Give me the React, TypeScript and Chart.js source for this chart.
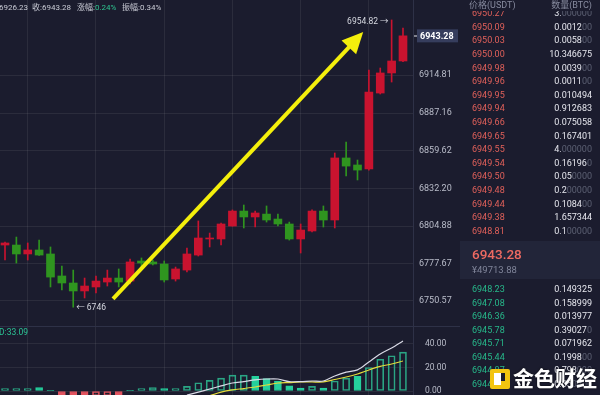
import React, { useEffect, useRef } from "react";
import { Chart, registerables } from "chart.js";

Chart.register(...registerables);

// ---------------- data ----------------
const candleOpen = [6791.2, 6791.2, 6784.7, 6787.6, 6784.7, 6768.7, 6763.6, 6757.8, 6760.7, 6764.3, 6767.2, 6765.0, 6779.6, 6778.9, 6777.4, 6766.5, 6773.0, 6783.9, 6795.6, 6795.6, 6805.0, 6815.9, 6811.6, 6813.7, 6810.1, 6806.5, 6795.6, 6801.4, 6815.9, 6809.4, 6854.5, 6849.4, 6846.5, 6901.7, 6916.3, 6925.0];
const candleHigh = [6793.4, 6797.0, 6792.7, 6794.8, 6789.8, 6775.9, 6773.0, 6767.2, 6768.7, 6773.0, 6773.8, 6781.0, 6781.8, 6780.3, 6779.6, 6775.2, 6789.0, 6808.7, 6799.9, 6807.2, 6816.7, 6820.3, 6815.9, 6819.6, 6813.7, 6807.9, 6806.5, 6816.7, 6819.6, 6858.1, 6866.1, 6853.0, 6918.4, 6919.9, 6954.82, 6949.0];
const candleLow = [6780.3, 6778.1, 6780.3, 6783.6, 6760.7, 6758.5, 6746.0, 6752.7, 6756.3, 6761.4, 6760.7, 6762.9, 6775.2, 6776.7, 6764.3, 6765.0, 6771.6, 6783.2, 6789.8, 6791.2, 6805.0, 6803.6, 6804.3, 6807.9, 6805.0, 6794.8, 6785.4, 6800.7, 6804.3, 6803.6, 6841.4, 6838.5, 6845.7, 6901.0, 6909.7, 6924.5];
const candleClose = [6792.7, 6784.7, 6787.6, 6783.9, 6767.9, 6763.6, 6757.8, 6761.4, 6765.0, 6767.2, 6764.3, 6778.9, 6778.1, 6777.4, 6765.8, 6773.8, 6784.7, 6796.3, 6796.3, 6806.5, 6815.9, 6811.6, 6814.5, 6809.4, 6806.5, 6795.6, 6802.1, 6815.9, 6809.4, 6854.5, 6848.6, 6845.7, 6902.4, 6916.3, 6925.0, 6943.28];

const priceTicks = [6750.57, 6777.67, 6804.88, 6832.2, 6859.62, 6887.16, 6914.81];
const timeGridAt = [2, 8, 14, 20, 26, 32];
const lastPrice = 6943.28;
const highMark = { index: 34, price: 6954.82, text: "6954.82 →" };
const lowMark = { index: 6, price: 6746, text: "← 6746" };
const arrowStart = { index: 9.5, price: 6752.0 };
const arrowEnd = { index: 31.5, price: 6946.1 };

const histValues = [2, 2, 2, 3, 0.5, -4, -4, -4, -4, -4, -4, 0.5, 2, 3, 2, 2, 4, 7, 9, 11, 13.5, 13.5, 12.5, 10.5, 8.5, 4.5, 2.5, 4, 2.5, 8.5, 11, 12.5, 20, 27, 30, 33.09];
const histFilled = [false, false, false, true, true, true, true, true, false, false, true, true, false, false, true, false, false, false, false, false, false, false, true, true, true, true, true, false, true, false, false, true, false, false, false, false];
const whiteLine = [null, null, null, null, null, null, null, null, null, null, null, null, null, null, null, null, -3.5, -1, 1.7, 4.3, 6.8, 8, 9.4, 10.2, 10.2, 8, 8, 8.5, 8.5, 12.8, 16, 18, 24.7, 31.5, 36.6, 42.5];
const yellowLine = [null, null, null, null, null, null, null, null, null, null, null, null, null, null, null, null, null, null, -4, -1, 0.9, 2.1, 3.4, 5.1, 6.8, 7.2, 7.7, 7.7, 7.7, 9.8, 11.9, 14.5, 17.9, 20.9, 23, 25.5];
const indTicks = [0, 20, 40];
const indLabel = "D:33.09";

const infoLabels = ["开:", "收:", "涨幅:", "振幅:"];
const infoValues = ["6926.23", "6943.28", "0.24%", "0.34%"];

const askPrices = ["6950.27", "6950.09", "6950.03", "6950.00", "6949.98", "6949.96", "6949.95", "6949.94", "6949.66", "6949.65", "6949.55", "6949.54", "6949.50", "6949.48", "6949.44", "6949.38", "6948.81"];
const askQty = ["3.000000", "0.001200", "0.005800", "10.346675", "0.003900", "0.001100", "0.010494", "0.912683", "0.075058", "0.167401", "4.000000", "0.161960", "0.050000", "0.200000", "0.108400", "1.657344", "0.100000"];
const bidPrices = ["6948.23", "6947.08", "6946.36", "6945.78", "6945.71", "6945.44", "6944.87", "6944.52"];
const bidQty = ["0.149325", "0.158999", "0.013977", "0.390270", "0.071962", "0.199800", "0.798000", "0.050000"];
const midPrice = "6943.28";
const midCny = "¥49713.88";
const watermark = "金色财经";

// ---------------- styles ----------------
const BG = "#1b1c2e";
const GRID = "rgba(255,255,255,0.07)";
const SEP = "#2e3147";
const UP = "#c9132f";
const DOWN = "#2f951f";
const YELLOW = "#f4ef0c";
const TICK = "#b9bcc9";
const FONT = "Roboto, 'Noto Sans CJK SC', sans-serif";
const TEAL = "#25cf9c";
const TEAL_LINE = "#2aa584";
const RED_H = "#e2545f";

function splitQty(q: string): [string, string] {
  const m = q.match(/^(.*?)(0*)$/);
  return m ? [m[1], m[2]] : [q, ""];
}

const annotPlugin = {
  id: "annot",
  afterDatasetsDraw(chart: any) {
    const { ctx, chartArea } = chart;
    const x = chart.scales.x;
    const y = chart.scales.y;
    ctx.save();
    ctx.beginPath();
    ctx.rect(chartArea.left, chartArea.top, chartArea.right - chartArea.left, chartArea.bottom - chartArea.top);
    ctx.clip();
    const x1 = x.getPixelForValue(arrowStart.index);
    const y1 = y.getPixelForValue(arrowStart.price);
    const x2 = x.getPixelForValue(arrowEnd.index);
    const y2 = y.getPixelForValue(arrowEnd.price);
    const ang = Math.atan2(y2 - y1, x2 - x1);
    const headLen = 21;
    const headW = 10;
    const bx = x2 - headLen * Math.cos(ang);
    const by = y2 - headLen * Math.sin(ang);
    ctx.strokeStyle = YELLOW;
    ctx.lineWidth = 4;
    ctx.beginPath();
    ctx.moveTo(x1, y1);
    ctx.lineTo(bx + Math.cos(ang), by + Math.sin(ang));
    ctx.stroke();
    ctx.fillStyle = YELLOW;
    ctx.beginPath();
    ctx.moveTo(x2, y2);
    ctx.lineTo(bx + headW * Math.sin(ang), by - headW * Math.cos(ang));
    ctx.lineTo(bx - headW * Math.sin(ang), by + headW * Math.cos(ang));
    ctx.closePath();
    ctx.fill();

    ctx.font = "8.5px " + FONT;
    ctx.fillStyle = "#d6d8e0";
    ctx.textBaseline = "middle";
    ctx.textAlign = "right";
    ctx.fillText(highMark.text, x.getPixelForValue(highMark.index) - 3, y.getPixelForValue(highMark.price) + 2);
    ctx.textAlign = "left";
    ctx.fillText(lowMark.text, x.getPixelForValue(lowMark.index) + 3, y.getPixelForValue(lowMark.price) + 1);
    ctx.restore();
  },
  afterDraw(chart: any) {
    const { ctx, chartArea } = chart;
    const y = chart.scales.y;
    const py = y.getPixelForValue(lastPrice);
    ctx.save();
    ctx.fillStyle = "#363d5d";
    ctx.fillRect(chartArea.right + 4, py - 6.5, 41, 13);
    ctx.fillStyle = "#e8e8ee";
    ctx.fillRect(chartArea.right + 1, Math.round(py) - 0.5, 3, 1);
    ctx.font = "bold 9px " + FONT;
    ctx.fillStyle = "#ffffff";
    ctx.textBaseline = "middle";
    ctx.textAlign = "left";
    ctx.fillText(lastPrice.toFixed(2), chartArea.right + 7, py + 0.5);
    ctx.restore();
  },
};

const indPlugin = {
  id: "indLabel",
  afterDraw(chart: any) {
    const { ctx, chartArea } = chart;
    ctx.save();
    ctx.font = "8.5px " + FONT;
    ctx.fillStyle = "#2bc495";
    ctx.textBaseline = "middle";
    ctx.textAlign = "left";
    ctx.fillText(indLabel, chartArea.left - 1, chartArea.top + 7);
    ctx.restore();
  },
};

function xScale() {
  return {
    type: "linear",
    offset: false,
    min: -0.44,
    max: 35.88,
    afterBuildTicks: (s: any) => {
      s.ticks = timeGridAt.map((v) => ({ value: v }));
    },
    ticks: { display: false },
    grid: { color: GRID, drawTicks: false, offset: false },
    border: { display: false },
    afterFit: (s: any) => {
      s.height = 0;
      s.paddingLeft = 0;
      s.paddingRight = 0;
    },
  };
}

export default function App() {
  const mainRef = useRef<HTMLCanvasElement>(null);
  const indRef = useRef<HTMLCanvasElement>(null);

  useEffect(() => {
    Chart.defaults.font.family = FONT;
    const candleColors = candleOpen.map((o, i) => (candleClose[i] >= o ? UP : DOWN));
    const main = new Chart(mainRef.current as HTMLCanvasElement, {
      type: "bar",
      data: {
        datasets: [
          {
            label: "body",
            data: candleOpen.map((o, i) => ({ x: i, y: [o, candleClose[i]] })) as any,
            backgroundColor: candleColors,
            borderWidth: 0,
            barThickness: 8,
            minBarLength: 1,
            grouped: false,
            order: 0,
          } as any,
          {
            label: "wick",
            data: candleLow.map((l, i) => ({ x: i, y: [l, candleHigh[i]] })) as any,
            backgroundColor: candleColors,
            borderWidth: 0,
            barThickness: 1,
            grouped: false,
            order: 1,
          } as any,
        ],
      },
      options: {
        responsive: false,
        animation: false,
        events: [],
        layout: { padding: 0 },
        plugins: { legend: { display: false }, tooltip: { enabled: false } },
        scales: {
          x: xScale(),
          y: {
            type: "linear",
            position: "right",
            min: 6732.33,
            max: 6969.34,
            afterBuildTicks: (s: any) => {
              s.ticks = priceTicks.map((v) => ({ value: v }));
            },
            ticks: {
              color: TICK,
              font: { size: 9 },
              padding: 6,
              callback: (v: any) => Number(v).toFixed(2),
            },
            grid: { color: GRID, drawTicks: false },
            border: { color: SEP },
            afterFit: (s: any) => {
              s.width = 47;
              s.paddingTop = 0;
              s.paddingBottom = 0;
            },
          },
        },
      } as any,
      plugins: [annotPlugin],
    });

    const histColor = histValues.map((v) => (v < 0 ? RED_H : TEAL));
    const ind = new Chart(indRef.current as HTMLCanvasElement, {
      type: "bar",
      data: {
        datasets: [
          {
            type: "line",
            label: "white",
            data: whiteLine.map((v, i) => ({ x: i, y: v })) as any,
            borderColor: "#d9dae6",
            borderWidth: 1.2,
            pointRadius: 0,
            tension: 0.3,
            order: 0,
          } as any,
          {
            type: "line",
            label: "yellow",
            data: yellowLine.map((v, i) => ({ x: i, y: v })) as any,
            borderColor: "#e3dc3c",
            borderWidth: 1.2,
            pointRadius: 0,
            tension: 0.3,
            order: 1,
          } as any,
          {
            label: "hist",
            data: histValues.map((v, i) => ({ x: i, y: v })) as any,
            backgroundColor: histValues.map((v, i) => (histFilled[i] ? histColor[i] : "rgba(0,0,0,0)")),
            borderColor: histValues.map((v, i) => (v < 0 ? RED_H : histFilled[i] ? TEAL : TEAL_LINE)),
            borderWidth: 1,
            borderSkipped: false,
            barThickness: 7,
            grouped: false,
            order: 2,
          } as any,
        ],
      },
      options: {
        responsive: false,
        animation: false,
        events: [],
        layout: { padding: 0 },
        plugins: { legend: { display: false }, tooltip: { enabled: false } },
        scales: {
          x: xScale(),
          y: {
            type: "linear",
            position: "right",
            min: -3.4,
            max: 55.3,
            afterBuildTicks: (s: any) => {
              s.ticks = indTicks.map((v) => ({ value: v }));
            },
            ticks: {
              color: TICK,
              font: { size: 8.5 },
              padding: 12,
              callback: (v: any) => Number(v).toFixed(2),
            },
            grid: { color: GRID, drawTicks: false },
            border: { color: SEP },
            afterFit: (s: any) => {
              s.width = 47;
              s.paddingTop = 0;
              s.paddingBottom = 0;
            },
          },
        },
      } as any,
      plugins: [indPlugin],
    });

    return () => {
      main.destroy();
      ind.destroy();
    };
  }, []);

  const infoLeft = [-11, 32, 77, 122];
  const ROW = 13.6;
  const BROW = 13.5;

  return (
    <div style={{ position: "relative", width: 600, height: 395, background: BG, overflow: "hidden", fontFamily: FONT }}>
      <style>{`body{margin:0;background:${BG};}`}</style>
      <canvas ref={mainRef} width={460} height={326} style={{ position: "absolute", left: 0, top: 0, display: "block" }} />
      <canvas ref={indRef} width={460} height={69} style={{ position: "absolute", left: 0, top: 326, display: "block" }} />
      <div style={{ position: "absolute", left: 0, top: 326, width: 460, height: 1, background: SEP }} />

      {infoLabels.map((lab, k) => (
        <div key={k} style={{ position: "absolute", left: infoLeft[k], top: 2, height: 11, lineHeight: "11px", fontSize: 8, whiteSpace: "nowrap", color: "#c9cbd5" }}>
          {lab}
          <span style={{ color: k === 2 ? "#2ec28f" : "#c9cbd5" }}>{infoValues[k]}</span>
        </div>
      ))}

      {/* order book */}
      <div style={{ position: "absolute", left: 460, top: 0, width: 140, height: 395, overflow: "hidden" }}>
        {askPrices.map((p, k) => {
          const [b, d] = splitQty(askQty[k]);
          return (
            <div key={"a" + k} style={{ position: "absolute", left: 12, right: 8, top: 7.2 + k * ROW, height: ROW, lineHeight: ROW + "px", fontSize: 9, display: "flex", justifyContent: "space-between", whiteSpace: "nowrap" }}>
              <span style={{ color: "#e0605a" }}>{p}</span>
              <span>
                <span style={{ color: "#e6e7ee" }}>{b}</span>
                <span style={{ color: "#5c6073" }}>{d}</span>
              </span>
            </div>
          );
        })}
        <div style={{ position: "absolute", left: 0, right: 0, top: 0, height: 11, background: BG }} />
        <div style={{ position: "absolute", left: 9, right: 8, top: -1, height: 12, lineHeight: "12px", fontSize: 9, display: "flex", justifyContent: "space-between", color: "#878b9f" }}>
          <span>价格(USDT)</span>
          <span>数量(BTC)</span>
        </div>

        <div style={{ position: "absolute", left: 0, right: 0, top: 241, height: 38, background: "#222539" }}>
          <div style={{ position: "absolute", left: 12, top: 4, lineHeight: "18px", fontSize: 13.5, fontWeight: 500, color: "#ee6a62" }}>{midPrice}</div>
          <div style={{ position: "absolute", left: 12, top: 23, lineHeight: "12px", fontSize: 9.5, color: "#80859a" }}>{midCny}</div>
        </div>

        {bidPrices.map((p, k) => {
          const [b, d] = splitQty(bidQty[k]);
          return (
            <div key={"b" + k} style={{ position: "absolute", left: 12, right: 8, top: 283.25 + k * BROW, height: BROW, lineHeight: BROW + "px", fontSize: 9, display: "flex", justifyContent: "space-between", whiteSpace: "nowrap" }}>
              <span style={{ color: "#27b88a" }}>{p}</span>
              <span>
                <span style={{ color: "#e6e7ee" }}>{b}</span>
                <span style={{ color: "#5c6073" }}>{d}</span>
              </span>
            </div>
          );
        })}

        {/* watermark */}
        <svg width={22} height={22} style={{ position: "absolute", left: 29, top: 368 }} viewBox="0 0 22 22">
          <rect x={1} y={1} width={20} height={20} rx={2} fill="#f2c40f" />
          <rect x={5} y={5} width={7} height={12} fill="#ffffff" />
          <rect x={12} y={5} width={4} height={8} fill={BG} />
        </svg>
        <div style={{ position: "absolute", left: 53, top: 367, lineHeight: "24px", fontSize: 21, fontWeight: 700, color: "#ffffff", textShadow: "0 0 2px rgba(0,0,0,0.8)", whiteSpace: "nowrap" }}>
          {watermark}
        </div>
      </div>
    </div>
  );
}
